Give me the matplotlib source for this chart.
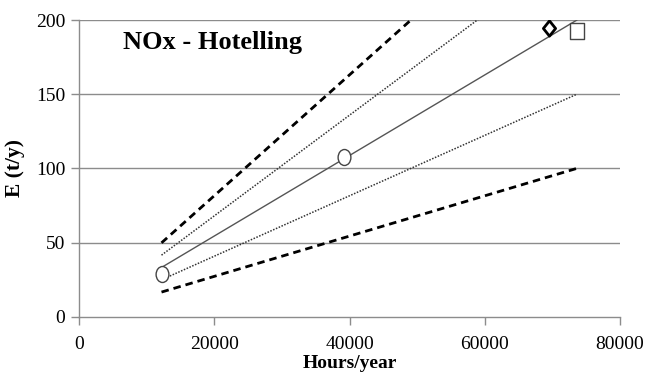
import matplotlib
matplotlib.use("Agg")
import matplotlib.pyplot as plt
from matplotlib.path import Path

# Hours/year range covered by the estimate lines
hours_span = [12200, 73600]

# Emission estimate lines (t/y) at the two ends of the span
central_line = [33.2, 200.0]
upper_dotted = [41.5, 250.0]
lower_dotted = [24.9, 150.0]
upper_dashed = [49.8, 300.0]
lower_dashed = [16.6, 100.0]

# Observed points
circle_hours = [12200, 39200]
circle_emis = [29.0, 108.0]
diamond_hours = [69500]
diamond_emis = [194.5]
square_hours = [73600]
square_emis = [193.0]

x_ticks = [0, 20000, 40000, 60000, 80000]
y_ticks = [0, 50, 100, 150, 200]

plt.rcParams['font.family'] = ['Liberation Serif', 'DejaVu Serif']


def tall(path, sy):
    """Return a copy of a marker path stretched vertically."""
    v = path.vertices.copy()
    v[:, 1] *= sy
    return Path(v, path.codes)


ellipse = tall(Path.unit_circle(), 1.25)
diamond = tall(Path([(0, -1), (1, 0), (0, 1), (-1, 0), (0, -1)],
                    [Path.MOVETO, Path.LINETO, Path.LINETO, Path.LINETO,
                     Path.CLOSEPOLY]), 1.25)
box = tall(Path([(-1, -1), (1, -1), (1, 1), (-1, 1), (-1, -1)],
                [Path.MOVETO, Path.LINETO, Path.LINETO, Path.LINETO,
                 Path.CLOSEPOLY]), 1.2)

fig = plt.figure(figsize=(6.47, 3.8), dpi=100)
ax = fig.add_axes([0.1221, 0.1666, 0.8362, 0.7804])

grid_c = '#8c8c8c'
for y in y_ticks[1:]:
    ax.axhline(y, color=grid_c, lw=1.0, zorder=1)

dash = (0, (2.7, 1.8))
ax.plot(hours_span, upper_dashed, color='black', lw=2.0, ls=dash, zorder=3)
ax.plot(hours_span, lower_dashed, color='black', lw=2.0, ls=dash, zorder=3)
ax.plot(hours_span, upper_dotted, color='#333333', lw=1.1, ls=(0, (1, 1)), zorder=3)
ax.plot(hours_span, lower_dotted, color='#333333', lw=1.1, ls=(0, (1, 1)), zorder=3)
ax.plot(hours_span, central_line, color='#555555', lw=1.0, zorder=3)

ax.plot(circle_hours, circle_emis, ls='none', marker=ellipse, ms=11.5,
        mfc='white', mec='#444444', mew=1.0, zorder=4)
ax.plot(diamond_hours, diamond_emis, ls='none', marker=diamond, ms=11,
        mfc='white', mec='black', mew=2.0, zorder=4)
ax.plot(square_hours, square_emis, ls='none', marker=box, ms=12,
        mfc='white', mec='#444444', mew=1.0, zorder=4)

ax.set_xlim(0, 80000)
ax.set_ylim(0, 200)
ax.set_xticks(x_ticks)
ax.set_yticks(y_ticks)
ax.tick_params(axis='both', direction='out', length=6, width=1.0,
               color=grid_c, labelsize=14, pad=4)
ax.tick_params(axis='x', pad=8)

for side in ['top', 'right']:
    ax.spines[side].set_visible(False)
for side in ['left', 'bottom']:
    ax.spines[side].set_color(grid_c)
    ax.spines[side].set_linewidth(1.0)

ax.set_xlabel('Hours/year', fontsize=14, fontweight='bold', labelpad=1)
ax.set_ylabel('E (t/y)', fontsize=15.5, fontweight='bold', labelpad=8)

ax.text(0.082, 0.925, 'NOx - Hotelling', transform=ax.transAxes,
        fontsize=19, fontweight='bold', va='center', ha='left')

fig.savefig('out.png', dpi=100, facecolor='white')
